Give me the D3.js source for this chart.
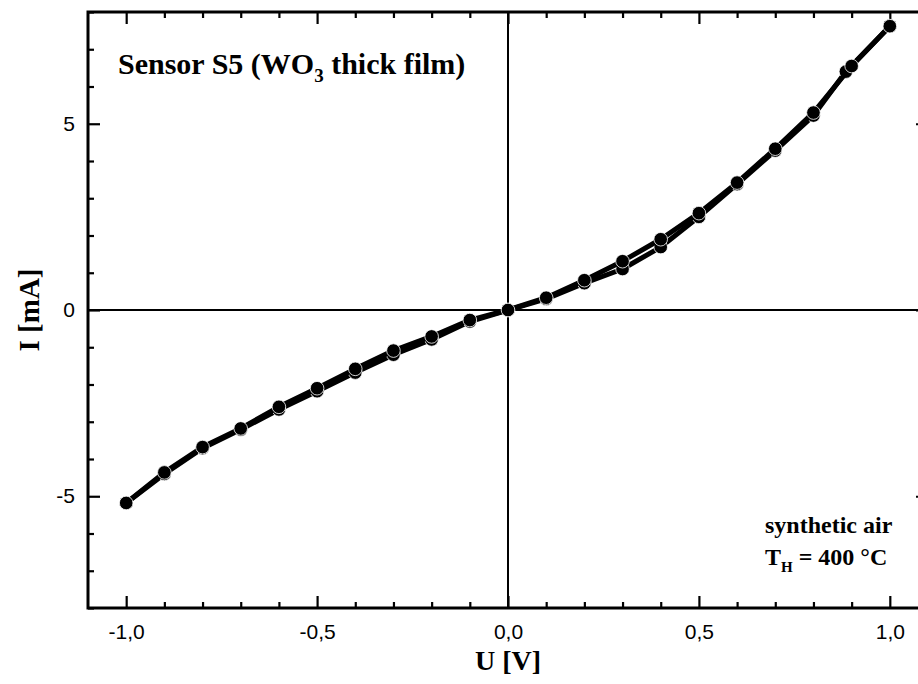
<!DOCTYPE html>
<html>
<head>
<meta charset="utf-8">
<script src="https://cdn.jsdelivr.net/npm/d3@7"></script>
<style>
  html, body { margin: 0; padding: 0; background: #fff; }
  svg { display: block; }
</style>
</head>
<body>
<svg id="chart" width="918" height="684"></svg>
<script>
// ---- data ----
const voltageA = [-1.0, -0.9, -0.8, -0.7, -0.6, -0.5, -0.4, -0.3, -0.2, -0.1, 0.0, 0.1, 0.2, 0.3, 0.4, 0.5, 0.6, 0.7, 0.8, 0.9, 1.0];
const currentA = [-5.18, -4.36, -3.68, -3.18, -2.60, -2.10, -1.58, -1.09, -0.71, -0.27, 0.0, 0.33, 0.80, 1.31, 1.90, 2.60, 3.42, 4.33, 5.30, 6.55, 7.62];
const voltageB = [-1.0, -0.9, -0.8, -0.7, -0.6, -0.5, -0.4, -0.3, -0.2, -0.1, 0.0, 0.1, 0.2, 0.3, 0.4, 0.5, 0.6, 0.7, 0.8, 0.885, 1.0];
const currentB = [-5.18, -4.40, -3.71, -3.21, -2.67, -2.18, -1.68, -1.20, -0.79, -0.31, 0.0, 0.30, 0.72, 1.10, 1.69, 2.50, 3.38, 4.28, 5.22, 6.40, 7.62];

const xMajorTicks = [-1.0, -0.5, 0.0, 0.5, 1.0];
const xMinorTicks = [-1.0, -0.9, -0.8, -0.7, -0.6, -0.5, -0.4, -0.3, -0.2, -0.1, 0.0, 0.1, 0.2, 0.3, 0.4, 0.5, 0.6, 0.7, 0.8, 0.9, 1.0];
const yMajorTicks = [-5, 0, 5];
const yMinorTicks = [-8, -7, -6, -5, -4, -3, -2, -1, 0, 1, 2, 3, 4, 5, 6, 7, 8];

const xLabel = "U [V]";
const yLabel = "I [mA]";

(function () {
// ---- layout ----
const svg = d3.select("#chart");
const pL = 88, pR = 928, pT = 12, pB = 608;

const x = d3.scaleLinear().domain([-1.1, 1.1]).range([pL, pR]);
const y = d3.scaleLinear().domain([-8, 8]).range([pB, pT]);

const fmt = v => d3.format(".1f")(v).replace(".", ",").replace("\u2212", "-");
const fmtY = v => String(v).replace("\u2212", "-");
const isMajorX = v => xMajorTicks.some(m => Math.abs(m - v) < 1e-9);
const xMinorOnly = xMinorTicks.filter(v => !isMajorX(v));
const yMinorOnly = yMinorTicks.filter(v => !yMajorTicks.includes(v));

const majorLen = 12, minorLen = 6;
const g = svg.append("g");

// bottom axis (ticks inward)
g.append("g").attr("transform", `translate(0,${pB})`)
  .call(d3.axisBottom(x).tickValues(xMinorOnly).tickSize(-minorLen).tickFormat(""));
g.append("g").attr("transform", `translate(0,${pB})`)
  .call(d3.axisBottom(x).tickValues(xMajorTicks).tickSize(-majorLen).tickPadding(16).tickFormat(fmt));
// top axis
g.append("g").attr("transform", `translate(0,${pT})`)
  .call(d3.axisTop(x).tickValues(xMinorOnly).tickSize(-minorLen).tickFormat(""));
g.append("g").attr("transform", `translate(0,${pT})`)
  .call(d3.axisTop(x).tickValues(xMajorTicks).tickSize(-majorLen).tickFormat(""));
// left axis
g.append("g").attr("transform", `translate(${pL},0)`)
  .call(d3.axisLeft(y).tickValues(yMinorOnly).tickSize(-minorLen).tickFormat(""));
g.append("g").attr("transform", `translate(${pL},0)`)
  .call(d3.axisLeft(y).tickValues(yMajorTicks).tickSize(-majorLen).tickPadding(13).tickFormat(fmtY));
// right axis
g.append("g").attr("transform", `translate(${pR},0)`)
  .call(d3.axisRight(y).tickValues(yMinorOnly).tickSize(-minorLen).tickFormat(""));
g.append("g").attr("transform", `translate(${pR},0)`)
  .call(d3.axisRight(y).tickValues(yMajorTicks).tickSize(-majorLen).tickFormat(""));

g.selectAll(".domain").remove();
g.selectAll(".tick line").attr("stroke", "#000").attr("stroke-width", 2.2);
g.selectAll(".tick text").attr("fill", "#000")
  .style("font-family", "Arial, 'Liberation Sans', sans-serif").style("font-size", "21px");

// frame
svg.append("rect").attr("x", pL).attr("y", pT).attr("width", pR - pL).attr("height", pB - pT)
  .attr("fill", "none").attr("stroke", "#000").attr("stroke-width", 3);

// zero cross lines
svg.append("line").attr("x1", x(0)).attr("x2", x(0)).attr("y1", pT).attr("y2", pB)
  .attr("stroke", "#000").attr("stroke-width", 2);
svg.append("line").attr("x1", pL).attr("x2", pR).attr("y1", y(0)).attr("y2", y(0))
  .attr("stroke", "#000").attr("stroke-width", 2);

// series
const seriesList = [
  { u: voltageB, i: currentB },
  { u: voltageA, i: currentA }
];
const line = d3.line().x(d => x(d[0])).y(d => y(d[1]));
seriesList.forEach(s => {
  const pts = s.u.map((u, k) => [u, s.i[k]]);
  svg.append("path").datum(pts).attr("d", line)
    .attr("fill", "none").attr("stroke", "#000").attr("stroke-width", 5)
    .attr("stroke-linejoin", "round");
  svg.append("g").selectAll("circle").data(pts).join("circle")
    .attr("cx", d => x(d[0])).attr("cy", d => y(d[1])).attr("r", 6.8)
    .attr("fill", "#000").attr("stroke", "#fff").attr("stroke-width", 0.8);
});

const serif = "'Liberation Serif', 'Times New Roman', serif";
// axis labels
svg.append("text").attr("x", x(0)).attr("y", 670).attr("text-anchor", "middle")
  .style("font-family", serif).style("font-weight", "bold").style("font-size", "28px")
  .text(xLabel);
svg.append("text").attr("transform", `translate(39,${y(0)}) rotate(-90)`).attr("text-anchor", "middle")
  .style("font-family", serif).style("font-weight", "bold").style("font-size", "29px")
  .text(yLabel);

// annotations
const title = svg.append("text").attr("x", 118).attr("y", 74)
  .style("font-family", serif).style("font-weight", "bold").style("font-size", "30px");
title.append("tspan").text("Sensor S5 (WO");
title.append("tspan").attr("dy", 8).style("font-size", "19px").text("3");
title.append("tspan").attr("dy", -8).text(" thick film)");

svg.append("text").attr("x", 765).attr("y", 533)
  .style("font-family", serif).style("font-weight", "bold").style("font-size", "24px")
  .text("synthetic air");
const th = svg.append("text").attr("x", 765).attr("y", 565)
  .style("font-family", serif).style("font-weight", "bold").style("font-size", "24px");
th.append("tspan").text("T");
th.append("tspan").attr("dy", 7).style("font-size", "15px").text("H");
th.append("tspan").attr("dy", -7).text(" = 400 °C");
})();
</script>
</body>
</html>
